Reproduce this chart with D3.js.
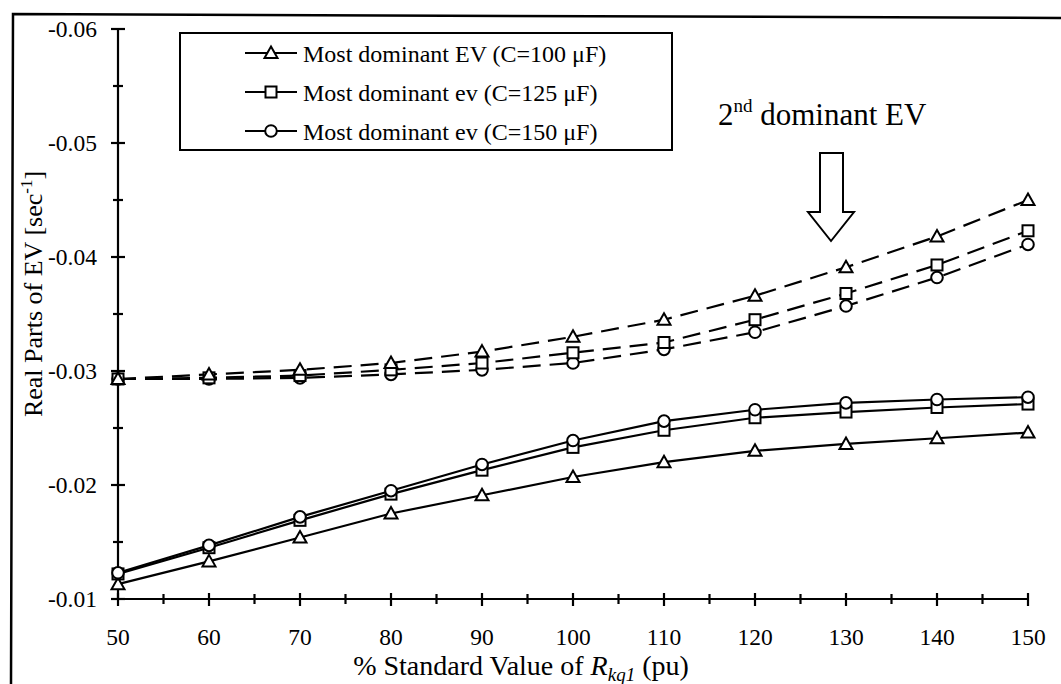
<!DOCTYPE html>
<html>
<head>
<meta charset="utf-8">
<script src="https://cdn.jsdelivr.net/npm/d3@7"></script>
<style>
  html, body { margin: 0; padding: 0; background: #fff; }
  svg { display: block; }
  text { font-family: "Liberation Serif", "Times New Roman", serif; fill: #000; }
</style>
</head>
<body>
<svg id="chart" width="1061" height="684"></svg>
<script>
// Percent of the standard value of R_kq1
const rkqPercent = [50, 60, 70, 80, 90, 100, 110, 120, 130, 140, 150];

// Most dominant eigenvalue, real part [1/s]
const mostDominantC100 = [-0.0113, -0.0133, -0.0154, -0.0175, -0.0191, -0.0207, -0.0220, -0.0230, -0.0236, -0.0241, -0.0246];
const mostDominantC125 = [-0.0122, -0.0145, -0.0169, -0.0192, -0.0213, -0.0233, -0.0248, -0.0259, -0.0264, -0.0268, -0.0271];
const mostDominantC150 = [-0.0123, -0.0147, -0.0172, -0.0195, -0.0218, -0.0239, -0.0256, -0.0266, -0.0272, -0.0275, -0.0277];

// 2nd dominant eigenvalue, real part [1/s]
const secondDominantC100 = [-0.0293, -0.0297, -0.0301, -0.0307, -0.0317, -0.0330, -0.0345, -0.0366, -0.0391, -0.0418, -0.0450];
const secondDominantC125 = [-0.0293, -0.0294, -0.0296, -0.0301, -0.0307, -0.0316, -0.0325, -0.0345, -0.0368, -0.0393, -0.0423];
const secondDominantC150 = [-0.0293, -0.0293, -0.0294, -0.0297, -0.0301, -0.0307, -0.0319, -0.0334, -0.0357, -0.0382, -0.0411];

const xMajorTicks = [50, 60, 70, 80, 90, 100, 110, 120, 130, 140, 150];
const yMajorTicks = [-0.01, -0.02, -0.03, -0.04, -0.05, -0.06];

const legendLabels = [
  "Most dominant EV (C=100 \u03BCF)",
  "Most dominant ev (C=125 \u03BCF)",
  "Most dominant ev (C=150 \u03BCF)"
];
const markerShapes = ["triangle", "square", "circle"];

const svg = d3.select("#chart");

// Plot area
const plotLeft = 118, plotRight = 1028, plotTop = 29, plotBottom = 599;
const x = d3.scaleLinear().domain([50, 150]).range([plotLeft, plotRight]);
const y = d3.scaleLinear().domain([-0.01, -0.06]).range([plotBottom, plotTop]);

// Outer frame (top and left edges of the page border)
svg.append("path")
  .attr("d", "M11,684 L13,14 L1061,18")
  .attr("fill", "none").attr("stroke", "#000").attr("stroke-width", 2.5);

// Axes lines
const axes = svg.append("g").attr("stroke", "#000").attr("stroke-width", 2.2);
axes.append("line").attr("x1", x(50)).attr("x2", x(150)).attr("y1", y(-0.01)).attr("y2", y(-0.01));
axes.append("line").attr("x1", x(50)).attr("x2", x(50)).attr("y1", y(-0.01)).attr("y2", y(-0.06));

// Crossing ticks, major and minor
const xTicksAll = d3.range(50, 150.1, 5);
xTicksAll.forEach(v => {
  const major = v % 10 === 0;
  axes.append("line")
    .attr("x1", x(v)).attr("x2", x(v))
    .attr("y1", y(-0.01) - (major ? 6 : 5)).attr("y2", y(-0.01) + (major ? 7 : 5));
});
const yTicksAll = d3.range(0, 11).map(i => -0.01 - i * 0.005);
yTicksAll.forEach((v, i) => {
  const major = i % 2 === 0;
  axes.append("line")
    .attr("x1", x(50) - (major ? 7 : 5)).attr("x2", x(50) + (major ? 7 : 5))
    .attr("y1", y(v)).attr("y2", y(v));
});

// Tick labels
svg.append("g").selectAll("text").data(xMajorTicks).join("text")
  .attr("x", d => x(d)).attr("y", 645)
  .attr("text-anchor", "middle").attr("font-size", 23.5)
  .text(d => d);
svg.append("g").selectAll("text").data(yMajorTicks).join("text")
  .attr("x", 97).attr("y", d => y(d) + 8)
  .attr("text-anchor", "end").attr("font-size", 23.5)
  .text(d => d.toFixed(2));

// Axis titles
const xt = svg.append("text").attr("x", 521).attr("y", 675)
  .attr("text-anchor", "middle").attr("font-size", 28);
xt.append("tspan").text("% Standard Value of ");
xt.append("tspan").attr("font-style", "italic").text("R");
xt.append("tspan").attr("font-style", "italic").attr("font-size", 19).attr("dy", 6).text("kq1");
xt.append("tspan").attr("dy", -6).text(" (pu)");

const yt = svg.append("text").attr("transform", "translate(42,294) rotate(-90)")
  .attr("text-anchor", "middle").attr("font-size", 26);
yt.append("tspan").text("Real Parts of EV [sec");
yt.append("tspan").attr("font-size", 17).attr("dy", -10).text("-1");
yt.append("tspan").attr("dy", 10).text("]");

// Marker drawing
function drawMarker(g, shape, cx, cy) {
  if (shape === "triangle") {
    g.append("path")
      .attr("d", `M${cx},${cy - 6.5} L${cx + 6.5},${cy + 5} L${cx - 6.5},${cy + 5} Z`)
      .attr("fill", "#fff").attr("stroke", "#000").attr("stroke-width", 2);
  } else if (shape === "square") {
    g.append("rect").attr("x", cx - 5.5).attr("y", cy - 5.5)
      .attr("width", 11).attr("height", 11)
      .attr("fill", "#fff").attr("stroke", "#000").attr("stroke-width", 2);
  } else {
    g.append("circle").attr("cx", cx).attr("cy", cy).attr("r", 5.8)
      .attr("fill", "#fff").attr("stroke", "#000").attr("stroke-width", 2);
  }
}

const line = d3.line().x((d, i) => x(rkqPercent[i])).y(d => y(d));

const series = [
  { values: secondDominantC150, shape: "circle", dashed: true },
  { values: secondDominantC125, shape: "square", dashed: true },
  { values: secondDominantC100, shape: "triangle", dashed: true },
  { values: mostDominantC100, shape: "triangle", dashed: false },
  { values: mostDominantC125, shape: "square", dashed: false },
  { values: mostDominantC150, shape: "circle", dashed: false }
];

const plot = svg.append("g");
series.forEach(s => {
  plot.append("path").datum(s.values)
    .attr("d", line)
    .attr("fill", "none").attr("stroke", "#000").attr("stroke-width", 2.2)
    .attr("stroke-dasharray", s.dashed ? "18,9" : null);
});
series.forEach(s => {
  s.values.forEach((v, i) => drawMarker(plot, s.shape, x(rkqPercent[i]), y(v)));
});

// Legend
const lg = svg.append("g");
lg.append("rect").attr("x", 180).attr("y", 33).attr("width", 492).attr("height", 117)
  .attr("fill", "#fff").attr("stroke", "#000").attr("stroke-width", 2);
legendLabels.forEach((label, i) => {
  const cy = 53 + i * 39;
  lg.append("line").attr("x1", 245).attr("x2", 297).attr("y1", cy).attr("y2", cy)
    .attr("stroke", "#000").attr("stroke-width", 2);
  drawMarker(lg, markerShapes[i], 271, cy);
  lg.append("text").attr("x", 303).attr("y", cy + 8.5).attr("font-size", 24).text(label);
});

// Annotation for the 2nd dominant eigenvalue
const ann = svg.append("text").attr("x", 718).attr("y", 125).attr("font-size", 31);
ann.append("tspan").text("2");
ann.append("tspan").attr("font-size", 19).attr("dy", -13).text("nd");
ann.append("tspan").attr("dy", 13).text(" dominant EV");

svg.append("path")
  .attr("d", "M820,153 L843,153 L843,212 L854,212 L831,241 L808,212 L820,212 Z")
  .attr("fill", "#fff").attr("stroke", "#000").attr("stroke-width", 2);
</script>
</body>
</html>
